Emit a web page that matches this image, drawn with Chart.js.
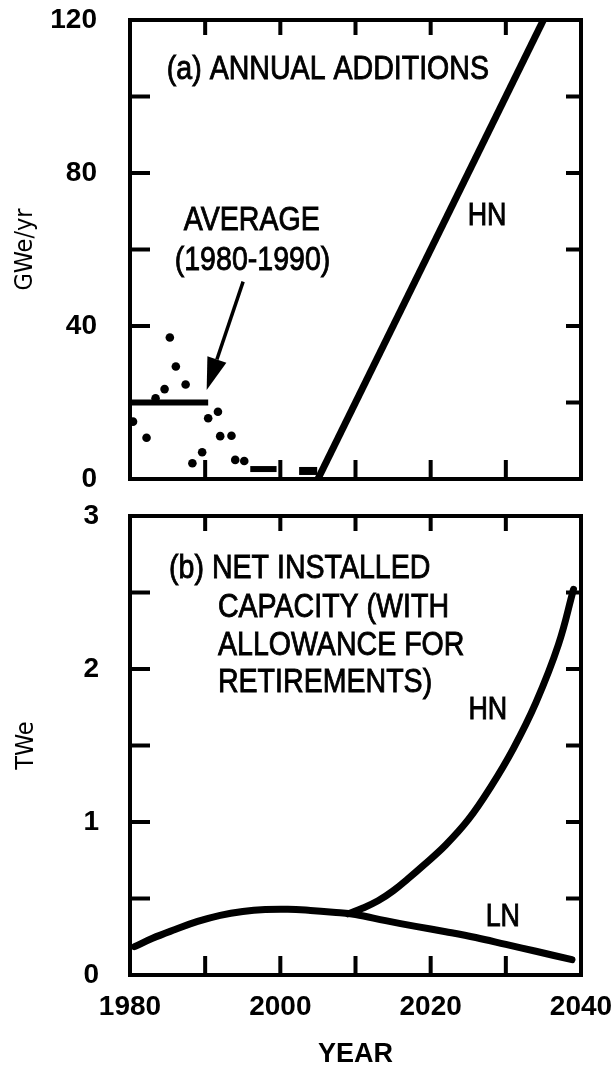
<!DOCTYPE html>
<html><head><meta charset="utf-8">
<script src="https://cdn.jsdelivr.net/npm/chart.js@4.4.1/dist/chart.umd.min.js"></script>
<style>
html,body{margin:0;padding:0;background:#fff;}
#wrap{position:relative;width:615px;height:1071px;background:#fff;}
canvas{position:absolute;left:0;}
#c1{top:0}
#c2{top:495px}
</style></head><body>
<div id="wrap"><canvas id="c1" width="615" height="495"></canvas><canvas id="c2" width="615" height="576"></canvas></div>
<script>
// ---------- data ----------
const xTickLabels = [1980, 2000, 2020, 2040];
const topTickLabels = [0, 40, 80, 120];
const bottomTickLabels = [0, 1, 2, 3];

// (a) annual additions, scattered historical points
const dotYears  = [1980.4, 1982.2, 1983.4, 1984.6, 1985.3, 1986.1, 1987.4, 1988.3, 1989.6, 1990.4, 1991.7, 1992.0, 1993.5, 1994.0, 1995.2];
const dotValues = [15.0, 10.8, 21.1, 23.5, 37.0, 29.4, 24.7, 4.1, 7.0, 15.9, 17.6, 11.2, 11.3, 5.0, 4.7];
// average 1980-1990
const avgYears  = [1980, 1990.4];
const avgValues = [20, 20];
// short near-zero segments
const seg1Years  = [1996.0, 1999.5];
const seg1Values = [2.6, 2.6];
const seg2Years  = [2002.5, 2004.9];
const seg2Values = [2.1, 2.1];
// HN annual additions
const hnAddYears  = [2005, 2035];
const hnAddValues = [0, 120];

// (b) net installed capacity
const lnYears  = [1980.6, 1983, 1986, 1989, 1992, 1995, 1998, 2001, 2004, 2007, 2010, 2014, 2018, 2022, 2026, 2030, 2034, 2038.8];
const lnValues = [0.185, 0.24, 0.297, 0.35, 0.39, 0.415, 0.428, 0.43, 0.422, 0.41, 0.395, 0.355, 0.318, 0.283, 0.245, 0.20, 0.155, 0.10];
const hnYears  = [2009, 2011, 2013, 2015, 2017, 2019, 2022, 2025, 2028, 2031, 2034, 2037, 2039];
const hnValues = [0.40, 0.438, 0.485, 0.55, 0.63, 0.715, 0.85, 1.015, 1.23, 1.48, 1.78, 2.16, 2.52];

// ---------- style ----------
const NOTE_FONT = "'Liberation Sans','Arial',sans-serif";
const TICK_FONT = "'Liberation Sans','Arial',sans-serif";
const TITLE_FONT = "'DejaVu Sans Condensed','DejaVu Sans',sans-serif";
const INK = '#000';
const pts = (xs, ys) => xs.map((x, i) => ({x, y: ys[i]}));

const framePlugin = {
  id: 'frame',
  afterDatasetsDraw(chart) {
    const {ctx, chartArea: a, scales: {x, y}} = chart;
    ctx.save();
    ctx.strokeStyle = INK;
    ctx.lineWidth = 4;
    ctx.strokeRect(a.left, a.top, a.right - a.left, a.bottom - a.top);
    ctx.beginPath();
    y.ticks.forEach(t => {
      if (t.value <= y.min || t.value >= y.max) return;
      const p = y.getPixelForValue(t.value);
      ctx.moveTo(a.left, p); ctx.lineTo(a.left + 20, p);
      ctx.moveTo(a.right, p); ctx.lineTo(a.right - 15, p);
    });
    x.ticks.forEach(t => {
      if (t.value <= x.min || t.value >= x.max) return;
      const p = x.getPixelForValue(t.value);
      ctx.moveTo(p, a.bottom); ctx.lineTo(p, a.bottom - 19);
      ctx.moveTo(p, a.top); ctx.lineTo(p, a.top + 15);
    });
    ctx.stroke();
    ctx.restore();
  }
};

const notePlugin = {
  id: 'notes',
  afterDraw(chart, args, opts) {
    const {ctx, scales: {x, y}} = chart;
    ctx.save();
    ctx.fillStyle = INK;
    ctx.strokeStyle = INK;
    ctx.textBaseline = 'middle';
    (opts.items || []).forEach(it => {
      ctx.save();
      ctx.font = (it.weight || 'normal') + ' ' + it.size + 'px ' + NOTE_FONT;
      ctx.textAlign = it.align || 'left';
      ctx.translate(x.getPixelForValue(it.x), y.getPixelForValue(it.y));
      ctx.scale(0.84, 1);
      ctx.lineWidth = 0.9;
      ctx.fillText(it.text, 0, 0);
      ctx.strokeText(it.text, 0, 0);
      ctx.restore();
    });
    if (opts.arrow) {
      const ar = opts.arrow;
      const x0 = x.getPixelForValue(ar.from[0]), y0 = y.getPixelForValue(ar.from[1]);
      const x1 = x.getPixelForValue(ar.to[0]), y1 = y.getPixelForValue(ar.to[1]);
      const ang = Math.atan2(y1 - y0, x1 - x0);
      const hl = 32, hw = 10;
      const bx = x1 - hl * Math.cos(ang), by = y1 - hl * Math.sin(ang);
      ctx.lineWidth = 3.5;
      ctx.beginPath(); ctx.moveTo(x0, y0); ctx.lineTo(bx, by); ctx.stroke();
      ctx.beginPath();
      ctx.moveTo(x1, y1);
      ctx.lineTo(bx + hw * Math.sin(ang), by - hw * Math.cos(ang));
      ctx.lineTo(bx - hw * Math.sin(ang), by + hw * Math.cos(ang));
      ctx.closePath(); ctx.fill();
    }
    ctx.restore();
  }
};

// remove label-overflow padding so the plot box is set by layout.padding only
const noPad = (s) => { s.paddingTop = 0; s.paddingBottom = 0; s.paddingLeft = 0; s.paddingRight = 0; };

const lineDs = (data, w) => ({type: 'scatter', data, showLine: true, borderColor: INK, backgroundColor: INK,
  borderWidth: w, pointRadius: 0, borderCapStyle: 'butt'});

const tickFont = {family: TICK_FONT, size: 28, weight: 'bold', lineHeight: 1};
const titleFont = {family: TITLE_FONT, size: 25, lineHeight: 1};

// ---------- top chart ----------
new Chart(document.getElementById('c1'), {
  type: 'scatter',
  data: {datasets: [
    {data: pts(dotYears, dotValues), pointRadius: 4.3, pointBackgroundColor: INK, pointBorderWidth: 0, borderColor: INK},
    lineDs(pts(avgYears, avgValues), 6),
    lineDs(pts(seg1Years, seg1Values), 6),
    lineDs(pts(seg2Years, seg2Values), 8),
    lineDs(pts(hnAddYears, hnAddValues), 7)
  ]},
  options: {
    responsive: false, animation: false, devicePixelRatio: 1,
    layout: {autoPadding: false, padding: {top: 20, right: 34, bottom: 16, left: 0}},
    plugins: {legend: {display: false}, tooltip: {enabled: false},
      notes: {
        items: [
          {text: '(a) ANNUAL ADDITIONS', x: 1984.9, y: 107, size: 34},
          {text: 'AVERAGE', x: 1996.2, y: 67.5, size: 34, align: 'center'},
          {text: '(1980-1990)', x: 1996.3, y: 57.1, size: 34, align: 'center'},
          {text: 'HN', x: 2027.5, y: 68.8, size: 32, align: 'center'}
        ],
        arrow: {from: [1995.05, 51.6], to: [1990.2, 23.3]}
      }
    },
    scales: {
      x: {type: 'linear', min: 1980, max: 2040,
          afterFit: s => { noPad(s); s.height = 0; },
          ticks: {display: false, stepSize: 10},
          grid: {display: false, drawTicks: false}, border: {display: false}},
      y: {type: 'linear', min: 0, max: 120,
          afterFit: s => { noPad(s); s.width = 130; },
          ticks: {stepSize: 20, color: INK, font: tickFont, padding: 33,
                  callback: v => topTickLabels.includes(v) ? String(v) : ''},
          grid: {display: false, drawTicks: false}, border: {display: false},
          title: {display: true, text: 'GWe/yr', color: INK, font: titleFont, padding: {top: 13, bottom: 0}}}
    }
  },
  plugins: [framePlugin, notePlugin]
});

// ---------- bottom chart ----------
new Chart(document.getElementById('c2'), {
  type: 'scatter',
  data: {datasets: [
    Object.assign(lineDs(pts(lnYears, lnValues), 7), {tension: 0.4, borderCapStyle: 'round'}),
    Object.assign(lineDs(pts(hnYears, hnValues), 7), {tension: 0.4, borderCapStyle: 'round'})
  ]},
  options: {
    responsive: false, animation: false, devicePixelRatio: 1,
    layout: {autoPadding: false, padding: {top: 21, right: 34, bottom: 0, left: 0}},
    plugins: {legend: {display: false}, tooltip: {enabled: false},
      notes: {
        items: [
          {text: '(b) NET INSTALLED', x: 1985.2, y: 2.654, size: 34},
          {text: 'CAPACITY (WITH', x: 1991.7, y: 2.399, size: 34},
          {text: 'ALLOWANCE FOR', x: 1991.7, y: 2.150, size: 34},
          {text: 'RETIREMENTS)', x: 1991.7, y: 1.908, size: 34},
          {text: 'HN', x: 2027.6, y: 1.73, size: 32, align: 'center'},
          {text: 'LN', x: 2029.6, y: 0.376, size: 32, align: 'center'}
        ]
      }
    },
    scales: {
      x: {type: 'linear', min: 1980, max: 2040,
          afterFit: s => { noPad(s); s.height = 96; },
          ticks: {stepSize: 10, color: INK, font: tickFont, padding: 18, maxRotation: 0, autoSkip: false,
                  callback: v => xTickLabels.includes(v) ? String(v) : ''},
          grid: {display: false, drawTicks: false}, border: {display: false},
          title: {display: true, text: 'YEAR', color: INK, font: {family: TICK_FONT, size: 27, weight: 'bold', lineHeight: 1}, padding: {top: 0, bottom: 3}}},
      y: {type: 'linear', min: 0, max: 3,
          afterFit: s => { noPad(s); s.width = 130; },
          ticks: {stepSize: 0.5, color: INK, font: tickFont, padding: 31,
                  callback: v => bottomTickLabels.includes(v) ? String(v) : ''},
          grid: {display: false, drawTicks: false}, border: {display: false},
          title: {display: true, text: 'TWe', color: INK, font: titleFont, padding: {top: 14, bottom: 0}}}
    }
  },
  plugins: [framePlugin, notePlugin]
});
</script>
</body></html>
